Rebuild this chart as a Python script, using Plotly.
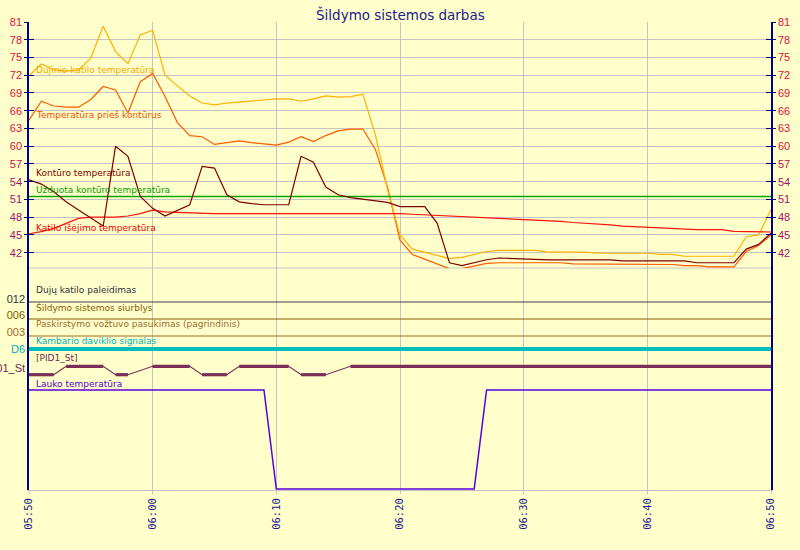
import pandas as pd
import plotly.graph_objects as go

# ---------------- data ----------------
times = pd.date_range("2024-01-01 05:50", "2024-01-01 06:50", freq="1min")

dujinio_katilo = [71.9, 73.9, 72.9, 72.7, 72.9, 74.9, 80.3, 76.0, 74.0, 78.8,
                  79.6, 72.0, 70.2, 68.5, 67.3, 67.0, 67.3, 67.5, 67.7, 67.9,
                  68.0, 68.0, 67.6, 68.0, 68.5, 68.3, 68.4, 68.8, 62.0, 52.6,
                  45.0, 42.6, 42.1, 41.6, 41.0, 41.2, 41.7, 42.2, 42.4, 42.4,
                  42.4, 42.4, 42.1, 42.1, 42.1, 42.1, 41.9, 41.9, 41.9, 41.9,
                  41.9, 41.7, 41.7, 41.4, 41.4, 41.4, 41.4, 41.4, 44.7, 45.0, 49.3]

pries_konturus = [64.4, 67.6, 66.8, 66.6, 66.6, 67.9, 70.1, 69.5, 65.6, 70.9,
                  72.3, 68.4, 64.0, 61.8, 61.6, 60.3, 60.6, 60.9, 60.6, 60.4,
                  60.2, 60.7, 61.6, 60.8, 61.8, 62.6, 62.9, 62.9, 59.5, 53.0,
                  44.1, 41.7, 40.9, 40.0, 39.3, 39.3, 39.8, 40.2, 40.3, 40.3,
                  40.3, 40.3, 40.3, 40.3, 40.1, 40.1, 40.1, 40.0, 40.0, 40.0,
                  40.0, 40.0, 40.0, 39.8, 39.8, 39.6, 39.6, 39.6, 42.2, 43.2, 45.0]

konturo = [54.3, 53.6, 52.3, 50.6, 49.2, 47.9, 46.5, 60.0, 58.3, 51.5,
           49.5, 48.2, 49.2, 50.1, 56.6, 56.3, 51.8, 50.6, 50.3, 50.1,
           50.1, 50.1, 58.3, 57.3, 53.1, 51.8, 51.3, 51.0, 50.8, 50.5,
           49.8, 49.8, 49.8, 47.0, 40.3, 39.8, 40.3, 40.8, 41.1, 41.0,
           41.0, 40.8, 40.8, 40.8, 40.8, 40.8, 40.8, 40.8, 40.6, 40.6,
           40.6, 40.6, 40.6, 40.6, 40.3, 40.3, 40.3, 40.3, 42.6, 43.4, 45.3]

katilo_isejimo = [45.2, 45.55, 46.1, 46.9, 47.8, 48.0, 48.0, 48.0, 48.2, 48.6,
                  49.2, 48.9, 48.8, 48.7, 48.7, 48.6, 48.6, 48.6, 48.6, 48.6,
                  48.6, 48.6, 48.6, 48.6, 48.6, 48.6, 48.6, 48.7, 48.7, 48.6,
                  48.6, 48.5, 48.4, 48.3, 48.2, 48.1, 48.0, 48.0, 47.9, 47.8,
                  47.7, 47.5, 47.4, 47.3, 47.1, 47.0, 46.8, 46.7, 46.5, 46.4,
                  46.2, 46.1, 46.0, 46.0, 45.9, 45.9, 45.9, 45.6, 45.6, 45.6, 45.5]

uzduota = 51.5

pid_times = ["05:50", "05:52", "05:53", "05:56", "05:57", "05:58", "06:00", "06:03",
             "06:04", "06:06", "06:07", "06:11", "06:12", "06:14", "06:16", "06:50"]
pid_state = [0, 0, 1, 1, 0, 0, 1, 1, 0, 0, 1, 1, 0, 0, 1, 1]

lauko_times = ["05:50", "06:09", "06:10", "06:26", "06:27", "06:50"]
lauko_level = [1, 1, 0, 0, 1, 1]

digital_off = 0  # Dujų katilo, Šildymo siurblys, Paskirstymo vožtuvas, Kambario daviklis

temp_ticks = [81, 78, 75, 72, 69, 66, 63, 60, 57, 54, 51, 48, 45, 42]
lane_tick_labels = ["012", "006", "003", "D6", "01_St"]
time_tick_labels = ["05:50", "06:00", "06:10", "06:20", "06:30", "06:40", "06:50"]

# ---------------- style / layout config ----------------
BG = "#FFFFCC"
NAVY = "#000080"
GRID = "#c4c4c4"
W, H = 800, 550
ML, MR, MT, MB = 29, 29, 22, 60
SPLIT_PX = 268  # boundary between upper and lower panels
plot_h = H - MT - MB
top_frac = (H - MB - SPLIT_PX) / plot_h
lower_range = [-1, H - MB - SPLIT_PX - 1]

# lane layout in lower-panel units (px above bottom)
lane_y = {"duju": 187, "sildymo": 170, "paskirst": 153, "kambario": 140}
pid_base, pid_amp = 114.3, 8.4
lauko_base, lauko_amp = 0, 99


def ts(hhmm):
    return pd.Timestamp("2024-01-01 " + hhmm)


fig = go.Figure()


def line(x, y, color, width=1.0, yaxis="y"):
    fig.add_trace(go.Scatter(x=x, y=y, mode="lines", yaxis=yaxis, xaxis="x",
                             line=dict(color=color, width=width),
                             showlegend=False, hoverinfo="skip", connectgaps=False))


x0, x1 = times[0], times[-1]

# upper panel (y, y2, y4, y5 all share the same temperature scale)
line([x0, x1], [uzduota, uzduota], "#00a800", 1.3, "y2")
line(times, katilo_isejimo, "#ff1010", 1.2, "y4")
line(times, konturo, "#800000", 1.2, "y5")
line(times, pries_konturus, "#ff5a00", 1.2, "y")
line(times, dujinio_katilo, "#ffb000", 1.2, "y")

# lower panel
line([x0, x1], [lane_y["duju"] + digital_off] * 2, "#404050", 1.2, "y3")
line([x0, x1], [lane_y["sildymo"] + digital_off] * 2, "#8a5a00", 1.2, "y3")
line([x0, x1], [lane_y["paskirst"] + digital_off] * 2, "#a06a30", 1.2, "y3")
line([x0, x1], [lane_y["kambario"] + digital_off] * 2, "#00bcbc", 4, "y3")

pid_x = [ts(t) for t in pid_times]
pid_y = [pid_base + pid_amp * v for v in pid_state]
line(pid_x, pid_y, "#7a2e58", 1.2, "y3")
thick_x, thick_y = [], []
for i in range(len(pid_x) - 1):
    if pid_state[i] == pid_state[i + 1]:
        thick_x += [pid_x[i], pid_x[i + 1], None]
        thick_y += [pid_y[i], pid_y[i + 1], None]
line(thick_x, thick_y, "#7a2e58", 3.2, "y3")

lauko_x = [ts(t) for t in lauko_times]
line(lauko_x, [lauko_base + lauko_amp * v for v in lauko_level], "#5a00e0", 1.5, "y3")

# tick labels with colours
def tick_color(v):
    if v >= 60:
        return "#e0103c"
    if v >= 57:
        return "#c8104e"
    return "#a8106a"

temp_text = ['<span style="color:%s">%d</span>' % (tick_color(v), v) for v in temp_ticks]
lane_colors = ["#303040", "#8a5a00", "#a06a30", "#00b0c0", "#702850"]
lane_tick_vals = [lane_y["duju"] + 3, lane_y["sildymo"] + 3.5, lane_y["paskirst"] + 3.5,
                  lane_y["kambario"], pid_base + pid_amp - 2]
lane_text = ['<span style="color:%s">%s</span>' % (c, t) for c, t in zip(lane_colors, lane_tick_labels)]

tickfont_y = dict(family="Liberation Sans", size=11)
common_top = dict(domain=[top_frac, 1], range=[39.41, 81], tickmode="array",
                  tickvals=temp_ticks, zeroline=False, anchor="x", automargin=False)

fig.update_layout(
    width=W, height=H,
    margin=dict(l=ML, r=MR, t=MT, b=MB, pad=0, autoexpand=False),
    paper_bgcolor=BG, plot_bgcolor=BG, showlegend=False,
    xaxis=dict(type="date", range=[x0, x1], tickmode="array", automargin=False,
               tickvals=[ts(t) for t in time_tick_labels], ticktext=time_tick_labels,
               tickangle=-90, tickfont=dict(family="DejaVu Sans Mono", size=10.5, color="#1a1a8c"),
               showgrid=True, gridcolor=GRID, gridwidth=1, showline=True, linecolor=GRID,
               ticks="outside", ticklen=3, tickcolor=GRID, anchor="y3", domain=[0, 1],
               zeroline=False),
    yaxis=dict(**common_top, ticktext=temp_text, ticks="outside", ticklen=3, tickcolor=NAVY,
               showline=True, linecolor=NAVY, linewidth=1.5, showgrid=True, gridcolor=GRID,
               tickfont=tickfont_y, side="left"),
    yaxis2=dict(**common_top, overlaying="y", side="right", ticktext=temp_text, ticks="outside",
                ticklen=3, tickcolor=NAVY, showline=True, linecolor=NAVY, linewidth=1.5,
                showgrid=False, tickfont=tickfont_y),
    yaxis4=dict(**common_top, overlaying="y", side="left", ticks="inside", ticklen=5,
                tickcolor=NAVY, showticklabels=False, showgrid=False, showline=False),
    yaxis5=dict(**common_top, overlaying="y", side="right", ticks="inside", ticklen=5,
                tickcolor=NAVY, showticklabels=False, showgrid=False, showline=False),
    yaxis3=dict(domain=[0, top_frac], range=lower_range, tickmode="array", automargin=False,
                tickvals=lane_tick_vals, ticktext=lane_text, ticks="", ticklen=0,
                showgrid=False, zeroline=False, showline=True,
                linecolor=NAVY, linewidth=1.5, mirror=True, anchor="x",
                tickfont=dict(family="Liberation Sans", size=11)),
)

# separator between panels
fig.add_shape(type="line", xref="paper", x0=0, x1=1, yref="y domain", y0=0, y1=0,
              line=dict(color=GRID, width=1), layer="below")

# title
fig.add_annotation(text="Šildymo sistemos darbas", xref="paper", x=0.5, yref="paper", y=1,
                   yanchor="bottom", yshift=-3, showarrow=False,
                   font=dict(family="DejaVu Sans", size=13.5, color="#202090"))

# series labels
lab_font = "DejaVu Sans"
top_labels = [("Dujinio katilo temperatūra", 72.9, "#f0a800"),
              ("Temperatūra prieš kontūrus", 65.3, "#f05000"),
              ("Kontūro temperatūra", 55.5, "#800000"),
              ("Užduota kontūro temperatūra", 52.6, "#00a000"),
              ("Katilo išėjimo temperatūra", 46.2, "#f00000")]
for txt, yv, col in top_labels:
    fig.add_annotation(text=txt, xref="x domain", x=0, xshift=5, xanchor="left",
                       yref="y", y=yv, yanchor="middle", showarrow=False,
                       font=dict(family=lab_font, size=9, color=col))

bottom_labels = [("Dujų katilo paleidimas", lane_y["duju"] + 12, "#303040"),
                 ("Šildymo sistemos siurblys", lane_y["sildymo"] + 12, "#8a5a00"),
                 ("Paskirstymo vožtuvo pasukimas (pagrindinis)", lane_y["paskirst"] + 12, "#a06a30"),
                 ("Kambario daviklio signalas", lane_y["kambario"] + 8, "#00b0c0"),
                 ("[PID1_St]", pid_base + pid_amp + 8, "#702850"),
                 ("Lauko temperatūra", lauko_base + lauko_amp + 6, "#5000d0")]
for txt, yv, col in bottom_labels:
    fig.add_annotation(text=txt, xref="x domain", x=0, xshift=5, xanchor="left",
                       yref="y3", y=yv, yanchor="middle", showarrow=False,
                       font=dict(family=lab_font, size=9, color=col))

fig.write_html(
    "out.html",
    config={"displayModeBar": False},
    post_script="document.body.style.margin='0';document.body.style.background='%s';"
                "document.body.style.overflow='hidden';" % BG,
)
